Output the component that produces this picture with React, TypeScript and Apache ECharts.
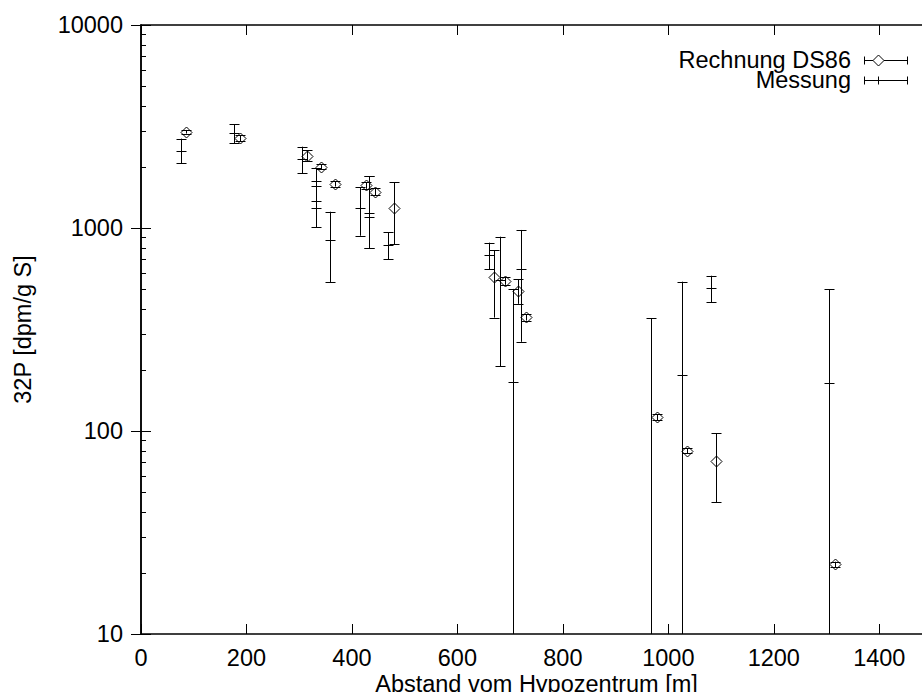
import React, { useEffect, useRef } from 'react';
import * as echarts from 'echarts';

const X_MIN = 0;
const X_MAX = 1500;
const X_STEP = 200;
const Y_MIN = 10;
const Y_MAX = 10000;

// Rechnung DS86 (diamonds): distance [m], 32P [dpm/g S], error bar low / high
const rechnungX = [85, 188, 314, 341, 368, 426, 444, 480, 670, 691, 715, 731, 978, 1035, 1090, 1316];
const rechnungY = [2980, 2770, 2270, 2005, 1650, 1620, 1510, 1260, 571, 548, 491, 363, 117, 80, 71, 22];
const rechnungLow = [2920, 2680, 2140, 1945, 1600, 1560, 1450, 834, 362, 525, 423, 350, 113, 77.5, 44.5, 21.3];
const rechnungHigh = [3040, 2860, 2420, 2065, 1700, 1680, 1570, 1679, 779, 572, 559, 376, 121, 82.5, 97.5, 22.7];

// Messung (plus): distance [m], 32P [dpm/g S], error bar low / high (0 = below the scale)
const messungX = [75, 177, 305, 331, 331, 358, 415, 432, 432, 469, 660, 681, 705, 720, 968, 1025, 1080, 1305];
const messungY = [2400, 2930, 2190, 1616, 1363, 873, 1250, 1181, 1129, 824, 739, 557, 174, 626, 5, 189, 505, 172];
const messungLow = [2084, 2612, 1858, 1254, 1008, 542, 916, 794, 794, 701, 628, 209, 0, 275, 0, 0, 430, 0];
const messungHigh = [2756, 3251, 2515, 1968, 1710, 1203, 1586, 1803, 1803, 953, 847, 906, 501, 978, 359, 544, 582, 499];

// log-axis minor tick values
const minorTickValues = [20, 30, 40, 50, 60, 70, 80, 90, 200, 300, 400, 500, 600, 700, 800, 900, 2000, 3000, 4000, 5000, 6000, 7000, 8000, 9000];

const legendNames = ['Rechnung DS86', 'Messung'];
const xTitle = 'Abstand vom Hypozentrum [m]';
const yTitle = '32P [dpm/g S]';

const FONT_FAMILY = '"Liberation Sans", Arial, sans-serif';
const FONT_SIZE = 23.5;

const lineStyle = { stroke: '#000', lineWidth: 1, fill: null as any };

function makeErrRender(kind: 'diamond' | 'plus') {
  return (params: any, api: any) => {
    const x = api.value(0);
    const y = api.value(1);
    const lo = api.value(2);
    const hi = api.value(3);
    const cs = params.coordSys;
    const bottom = cs.y + cs.height;
    const pC = api.coord([x, y]);
    const yHi = api.coord([x, hi])[1];
    const yLo = lo > 0 ? api.coord([x, lo])[1] : bottom + 30;
    const px = Math.round(pC[0]) + 0.5;
    const cy = Math.round(pC[1]) + 0.5;
    const cap = 5;
    const children: any[] = [
      { type: 'line', shape: { x1: px, y1: yHi, x2: px, y2: yLo }, style: lineStyle },
      { type: 'line', shape: { x1: px - cap, y1: Math.round(yHi) + 0.5, x2: px + cap, y2: Math.round(yHi) + 0.5 }, style: lineStyle },
      { type: 'line', shape: { x1: px - cap, y1: Math.round(yLo) + 0.5, x2: px + cap, y2: Math.round(yLo) + 0.5 }, style: lineStyle },
    ];
    if (kind === 'diamond') {
      const h = 5.5;
      children.push({
        type: 'polygon',
        shape: { points: [[px, cy - h], [px + h, cy], [px, cy + h], [px - h, cy]] },
        style: { stroke: '#000', lineWidth: 1, fill: 'none' },
      });
    } else {
      children.push({ type: 'line', shape: { x1: px - 5, y1: cy, x2: px + 5, y2: cy }, style: lineStyle });
    }
    return { type: 'group', children };
  };
}

function minorTickRender(params: any, api: any) {
  const cs = params.coordSys;
  const v = api.value(1);
  const py = Math.round(api.coord([X_MIN, v])[1]) + 0.5;
  const left = cs.x;
  const right = cs.x + cs.width;
  return {
    type: 'group',
    children: [
      { type: 'line', shape: { x1: left, y1: py, x2: left + 5, y2: py }, style: lineStyle },
      { type: 'line', shape: { x1: right - 5, y1: py, x2: right, y2: py }, style: lineStyle },
    ],
  };
}

export default function App() {
  const ref = useRef<HTMLDivElement>(null);
  useEffect(() => {
    const chart = echarts.init(ref.current!, null, { renderer: 'svg' });
    const textStyle = { color: '#000', fontFamily: FONT_FAMILY, fontSize: FONT_SIZE };
    const axisLine = { show: true, lineStyle: { color: '#000', width: 1.5 } };
    const axisTick = { show: true, inside: true, length: 10, lineStyle: { color: '#000', width: 1 } };
    const xFmt = (v: number) => (v % X_STEP === 0 ? String(v) : '');
    const yFmt = (v: number) => String(v);

    const rechnungData = rechnungX.map((x, i) => [x, rechnungY[i], rechnungLow[i], rechnungHigh[i]]);
    const messungData = messungX.map((x, i) => [x, messungY[i], messungLow[i], messungHigh[i]]);
    const minorData = minorTickValues.map((v) => [X_MIN, v]);

    const font = `${FONT_SIZE}px ${FONT_FAMILY}`;
    const legendX = 851;
    const row1 = 60;
    const row2 = 80;
    const sx1 = 864;
    const sx2 = 908;
    const sm = 878;

    const option: any = {
      animation: false,
      backgroundColor: '#fff',
      grid: { left: 141, top: 25, width: 791, height: 609, containLabel: false, outerBoundsMode: 'none' },
      xAxis: [
        {
          type: 'value',
          position: 'bottom',
          min: X_MIN,
          max: X_MAX,
          interval: X_STEP,
          axisLine,
          axisTick,
          splitLine: { show: false },
          axisLabel: { ...textStyle, margin: 12, formatter: xFmt, showMaxLabel: false },
          name: xTitle,
          nameLocation: 'middle',
          nameGap: 38,
          nameMoveOverlap: false,
          nameTextStyle: textStyle,
        },
        {
          type: 'value',
          position: 'top',
          min: X_MIN,
          max: X_MAX,
          interval: X_STEP,
          axisLine,
          axisTick,
          splitLine: { show: false },
          axisLabel: { show: false },
        },
      ],
      yAxis: [
        {
          type: 'log',
          logBase: 10,
          position: 'left',
          min: Y_MIN,
          max: Y_MAX,
          axisLine,
          axisTick,
          splitLine: { show: false },
          minorTick: { show: false },
          axisLabel: { ...textStyle, margin: 18, formatter: yFmt },
          name: yTitle,
          nameLocation: 'middle',
          nameGap: 106,
          nameMoveOverlap: false,
          nameTextStyle: textStyle,
        },
        {
          type: 'log',
          logBase: 10,
          position: 'right',
          min: Y_MIN,
          max: Y_MAX,
          axisLine,
          axisTick,
          splitLine: { show: false },
          axisLabel: { show: false },
        },
      ],
      series: [
        {
          type: 'custom',
          name: 'minor ticks',
          xAxisIndex: 0,
          yAxisIndex: 0,
          renderItem: minorTickRender,
          data: minorData,
          clip: false,
          silent: true,
        },
        {
          type: 'custom',
          name: legendNames[1],
          xAxisIndex: 0,
          yAxisIndex: 0,
          renderItem: makeErrRender('plus'),
          data: messungData,
          encode: { x: 0, y: 1 },
          clip: true,
        },
        {
          type: 'custom',
          name: legendNames[0],
          xAxisIndex: 0,
          yAxisIndex: 0,
          renderItem: makeErrRender('diamond'),
          data: rechnungData,
          encode: { x: 0, y: 1 },
          clip: true,
        },
      ],
      graphic: [
        { type: 'text', x: legendX, y: row1, style: { text: legendNames[0], fill: '#000', font, lineHeight: 18, align: 'right', verticalAlign: 'middle' } },
        { type: 'text', x: legendX, y: row2, style: { text: legendNames[1], fill: '#000', font, lineHeight: 18, align: 'right', verticalAlign: 'middle' } },
        { type: 'line', shape: { x1: sx1, y1: row1 + 0.5, x2: sx2, y2: row1 + 0.5 }, style: lineStyle },
        { type: 'line', shape: { x1: sx1 + 0.5, y1: row1 - 3.5, x2: sx1 + 0.5, y2: row1 + 4.5 }, style: lineStyle },
        { type: 'line', shape: { x1: sx2 - 0.5, y1: row1 - 3.5, x2: sx2 - 0.5, y2: row1 + 4.5 }, style: lineStyle },
        { type: 'polygon', shape: { points: [[sm + 0.5, row1 - 5], [sm + 6, row1 + 0.5], [sm + 0.5, row1 + 6], [sm - 5, row1 + 0.5]] }, style: { stroke: '#000', lineWidth: 1, fill: '#fff' } },
        { type: 'line', shape: { x1: sx1, y1: row2 + 0.5, x2: sx2, y2: row2 + 0.5 }, style: lineStyle },
        { type: 'line', shape: { x1: sx1 + 0.5, y1: row2 - 3.5, x2: sx1 + 0.5, y2: row2 + 4.5 }, style: lineStyle },
        { type: 'line', shape: { x1: sx2 - 0.5, y1: row2 - 3.5, x2: sx2 - 0.5, y2: row2 + 4.5 }, style: lineStyle },
        { type: 'line', shape: { x1: sm + 0.5, y1: row2 - 3.5, x2: sm + 0.5, y2: row2 + 4.5 }, style: lineStyle },
      ],
    };
    chart.setOption(option);
    return () => chart.dispose();
  }, []);
  return (
    <div style={{ position: 'fixed', left: 0, top: 0, width: 922, height: 692, overflow: 'hidden', background: '#fff' }}>
      <div ref={ref} style={{ width: 1000, height: 692 }} />
    </div>
  );
}
